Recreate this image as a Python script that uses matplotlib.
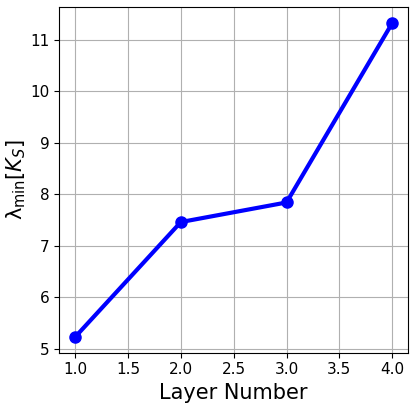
import matplotlib
matplotlib.use('Agg')
import matplotlib.pyplot as plt

# ─── data ────────────────────────────────────────────────────────────────────
layers     = [1, 2, 3, 4]
lambda_min = [5.23, 7.46, 7.84, 11.32]

fig = plt.figure(figsize=(4.16, 4.08), dpi=100)
ax = fig.add_axes([0.1425, 0.1355, 0.8385, 0.8465])

ax.plot(layers, lambda_min, color='blue', marker='o', lw=3, markersize=8)
ax.grid(True)
ax.set_xlabel('Layer Number', fontsize=15)
ax.set_ylabel(r'$\mathrm{\lambda}_{\min}[K_S]$', fontsize=15, labelpad=2)
ax.tick_params(labelsize=11)

fig.savefig('out.png', dpi=100)
